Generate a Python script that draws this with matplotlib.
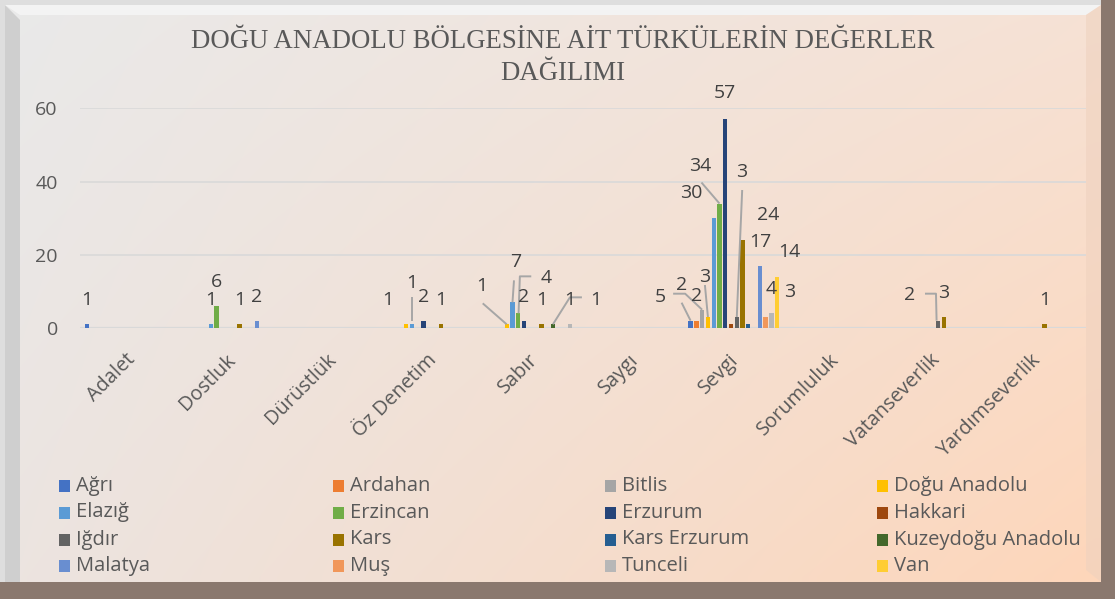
import numpy as np
import matplotlib
matplotlib.use("Agg")
import matplotlib.pyplot as plt
from matplotlib.patches import Rectangle, Polygon

# ---------------- data ----------------
categories = ["Adalet", "Dostluk", "Dürüstlük", "Öz Denetim", "Sabır",
              "Saygı", "Sevgi", "Sorumluluk", "Vatanseverlik", "Yardımseverlik"]
series_names = ["Ağrı", "Ardahan", "Bitlis", "Doğu Anadolu",
                "Elazığ", "Erzincan", "Erzurum", "Hakkari",
                "Iğdır", "Kars", "Kars Erzurum", "Kuzeydoğu Anadolu",
                "Malatya", "Muş", "Tunceli", "Van"]
agri        = [1, 0, 0, 0, 0, 0, 2, 0, 0, 0]
ardahan     = [0, 0, 0, 0, 0, 0, 2, 0, 0, 0]
bitlis      = [0, 0, 0, 0, 0, 0, 5, 0, 0, 0]
dogu_anad   = [0, 0, 0, 1, 1, 0, 3, 0, 0, 0]
elazig      = [0, 1, 0, 1, 7, 0, 30, 0, 0, 0]
erzincan    = [0, 6, 0, 0, 4, 0, 34, 0, 0, 0]
erzurum     = [0, 0, 0, 2, 2, 0, 57, 0, 0, 0]
hakkari     = [0, 0, 0, 0, 0, 0, 1, 0, 0, 0]
igdir       = [0, 0, 0, 0, 0, 0, 3, 0, 2, 0]
kars        = [0, 1, 0, 1, 1, 0, 24, 0, 3, 1]
kars_erz    = [0, 0, 0, 0, 0, 0, 1, 0, 0, 0]
kuzeydogu   = [0, 0, 0, 0, 1, 0, 0, 0, 0, 0]
malatya     = [0, 2, 0, 0, 0, 0, 17, 0, 0, 0]
mus         = [0, 0, 0, 0, 0, 0, 3, 0, 0, 0]
tunceli     = [0, 0, 0, 0, 1, 0, 4, 0, 0, 0]
van         = [0, 0, 0, 0, 0, 0, 14, 0, 0, 0]
series_values = [agri, ardahan, bitlis, dogu_anad, elazig, erzincan, erzurum,
                 hakkari, igdir, kars, kars_erz, kuzeydogu, malatya, mus,
                 tunceli, van]
title_lines = ["DOĞU ANADOLU BÖLGESİNE AİT TÜRKÜLERİN DEĞERLER", "DAĞILIMI"]
yticks = [0, 20, 40, 60]

# ---------------- style ----------------
colors = ["#4472C4", "#ED7D31", "#A5A5A5", "#FFC000",
          "#5B9BD5", "#70AD47", "#264478", "#9E480E",
          "#636363", "#997300", "#255E91", "#43682B",
          "#698ED0", "#F1975A", "#B7B7B7", "#FFCD33"]
FONT = "Open Sans"
W, H = 1115, 599
fig = plt.figure(figsize=(W / 100, H / 100), dpi=100)
fig.patch.set_facecolor("#dedede")

# background / frame axes in pixel coordinates
bg = fig.add_axes([0, 0, 1, 1], zorder=0)
bg.set_xlim(0, W)
bg.set_ylim(H, 0)
bg.axis("off")
tl = np.array([0.915, 0.915, 0.915])
tr = np.array([0.965, 0.885, 0.835])
bl = np.array([0.925, 0.895, 0.880])
br = np.array([0.995, 0.840, 0.730])
gy, gx = np.mgrid[0:1:60j, 0:1:120j]
grad = ((1 - gx)[..., None] * (1 - gy)[..., None] * tl + gx[..., None] * (1 - gy)[..., None] * tr
        + (1 - gx)[..., None] * gy[..., None] * bl + gx[..., None] * gy[..., None] * br)
bg.imshow(grad, extent=(5, 1101, 582, 5), aspect="auto", interpolation="bilinear", zorder=0)
# bevels
bg.add_patch(Polygon([(5, 5), (20, 20), (20, 582), (5, 582)], closed=True,
                     facecolor="#cfcfcf", edgecolor="none", zorder=1))
bg.add_patch(Polygon([(5, 5), (1101, 5), (1086, 15), (20, 15)], closed=True,
                     facecolor="#f3f3f3", edgecolor="none", zorder=1))
bg.add_patch(Polygon([(1101, 0), (W, 0), (W, H), (1101, H)], closed=True,
                     facecolor="#8a786e", edgecolor="none", zorder=2))
bg.add_patch(Polygon([(0, 582), (W, 582), (W, H), (0, H)], closed=True,
                     facecolor="#8a786e", edgecolor="none", zorder=2))
bg.add_patch(Polygon([(1086, 15), (1101, 5), (1101, 582), (1086, 570)], closed=True,
                     facecolor="#efd2bf", edgecolor="none", zorder=1, alpha=0.6))

# title
for k, line in enumerate(title_lines):
    bg.text(563, 42 + 31 * k, line, ha="center", va="center",
            family="Liberation Serif", fontsize=19.3, color="#595959", zorder=3)

# main axes
ax_left, ax_right, ax_bottom, ax_top = 80, 1086, 328, 108.3
ax = fig.add_axes([ax_left / W, (H - ax_bottom) / H, (ax_right - ax_left) / W,
                   (ax_bottom - ax_top) / H], zorder=1)
ax.patch.set_alpha(0)
n_cat, n_ser = len(categories), len(series_names)
ax.set_xlim(-0.5, n_cat - 0.5)
ax.set_ylim(0, 60)
step = 0.0574
bw = 0.043
xc = np.arange(n_cat)
for i, (vals, col) in enumerate(zip(series_values, colors)):
    ax.bar(xc + (i - (n_ser - 1) / 2) * step, vals, width=bw, color=col,
           linewidth=0, zorder=3)

for s in ["top", "right", "left", "bottom"]:
    ax.spines[s].set_visible(False)
ax.set_yticks(yticks)
ax.set_yticklabels([str(t) for t in yticks], family=FONT, fontsize=14, color="#595959")
ax.tick_params(axis="y", length=0, pad=16)
ax.grid(axis="y", color="#d9d9d9", linewidth=1.2, zorder=0)
ax.set_axisbelow(True)
ax.axhline(0, color="#d9d9d9", linewidth=1.6, zorder=2)
ax.set_xticks(xc)
ax.set_xticklabels([])
ax.tick_params(axis="x", length=0)
for j, cat in enumerate(categories):
    p = ax.transData.transform((j, 0))
    q = ax.transData.inverted().transform((p[0] + 2, p[1] - 29))
    ax.text(q[0], q[1], cat, rotation=45, rotation_mode="anchor", ha="right", va="center",
            family=FONT, fontsize=14.3, color="#595959", clip_on=False)

# data labels: (category, series) -> (dx, dy, leader offsets) in pixels relative to bar top
DEFAULT = (0, 24, None)
tweaks = {
    (3, 3): (-18, 24, None),
    (3, 4): (0, 41, [(0, 3), (0, 27)]),
    (4, 3): (-25, 38, [(0, 0), (-24, 21)]),
    (4, 4): (3, 40, [(0, 0), (1.5, 22)]),
    (4, 5): (28, 35, [(0.3, 0), (1.6, 37), (13, 37)]),
    (4, 11): (43, 24, [(0, 0), (17, 27), (29, 27)]),
    (6, 0): (-9, 36, [(-9, 18), (0, 0)]),
    (6, 1): (0, 25, None),
    (6, 2): (-42, 13, [(-29, 16), (-17, 16), (0, 0)]),
    (6, 3): (-3, 40, [(-3, 32), (0, 0)]),
    (6, 4): (-22, 25, None),
    (6, 5): (-19.5, 38, [(-18, 21), (0, 0)]),
    (6, 6): (0, 26, None),
    (6, 8): (5, 145, [(5.4, 127), (0, 0)]),
    (6, 9): (26, 25, None),
    (6, 13): (24, 25, None),
    (6, 15): (12, 25, None),
    (8, 8): (-28, 26, [(-13, 27), (-2, 27), (-1.4, 0)]),
}
hidden = {(6, 7), (6, 10)}

def shifted(x, y, dx, dy):
    p = ax.transData.transform((x, y))
    return ax.transData.inverted().transform((p[0] + dx, p[1] + dy))

for i, vals in enumerate(series_values):
    for j, v in enumerate(vals):
        if v <= 0 or (j, i) in hidden:
            continue
        bx = j + (i - (n_ser - 1) / 2) * step
        dx, dy, leader = tweaks.get((j, i), DEFAULT)
        lx, ly = shifted(bx, v, dx, dy)
        ax.text(lx, ly, str(v), ha="center", va="center", family=FONT, fontsize=14,
                color="#404040", clip_on=False, zorder=6)
        if leader:
            pts = np.array([shifted(bx, v, ox, oy) for ox, oy in leader])
            ax.plot(pts[:, 0], pts[:, 1], color="#a6a6a6", linewidth=1.4,
                    clip_on=False, zorder=5, solid_capstyle="butt")

# legend (row-major, 4 columns)
col_x = [59, 333, 605, 877]
row_y = [486, 512.5, 539.5, 566]
for k, (name, col) in enumerate(zip(series_names, colors)):
    r, c = divmod(k, 4)
    bg.add_patch(Rectangle((col_x[c], row_y[r] - 6), 11, 12, facecolor=col,
                           edgecolor="none", zorder=3))
    bg.text(col_x[c] + 17, row_y[r], name, ha="left", va="center", family=FONT,
            fontsize=14.5, color="#595959", zorder=3)

fig.savefig("out.png", dpi=100)
